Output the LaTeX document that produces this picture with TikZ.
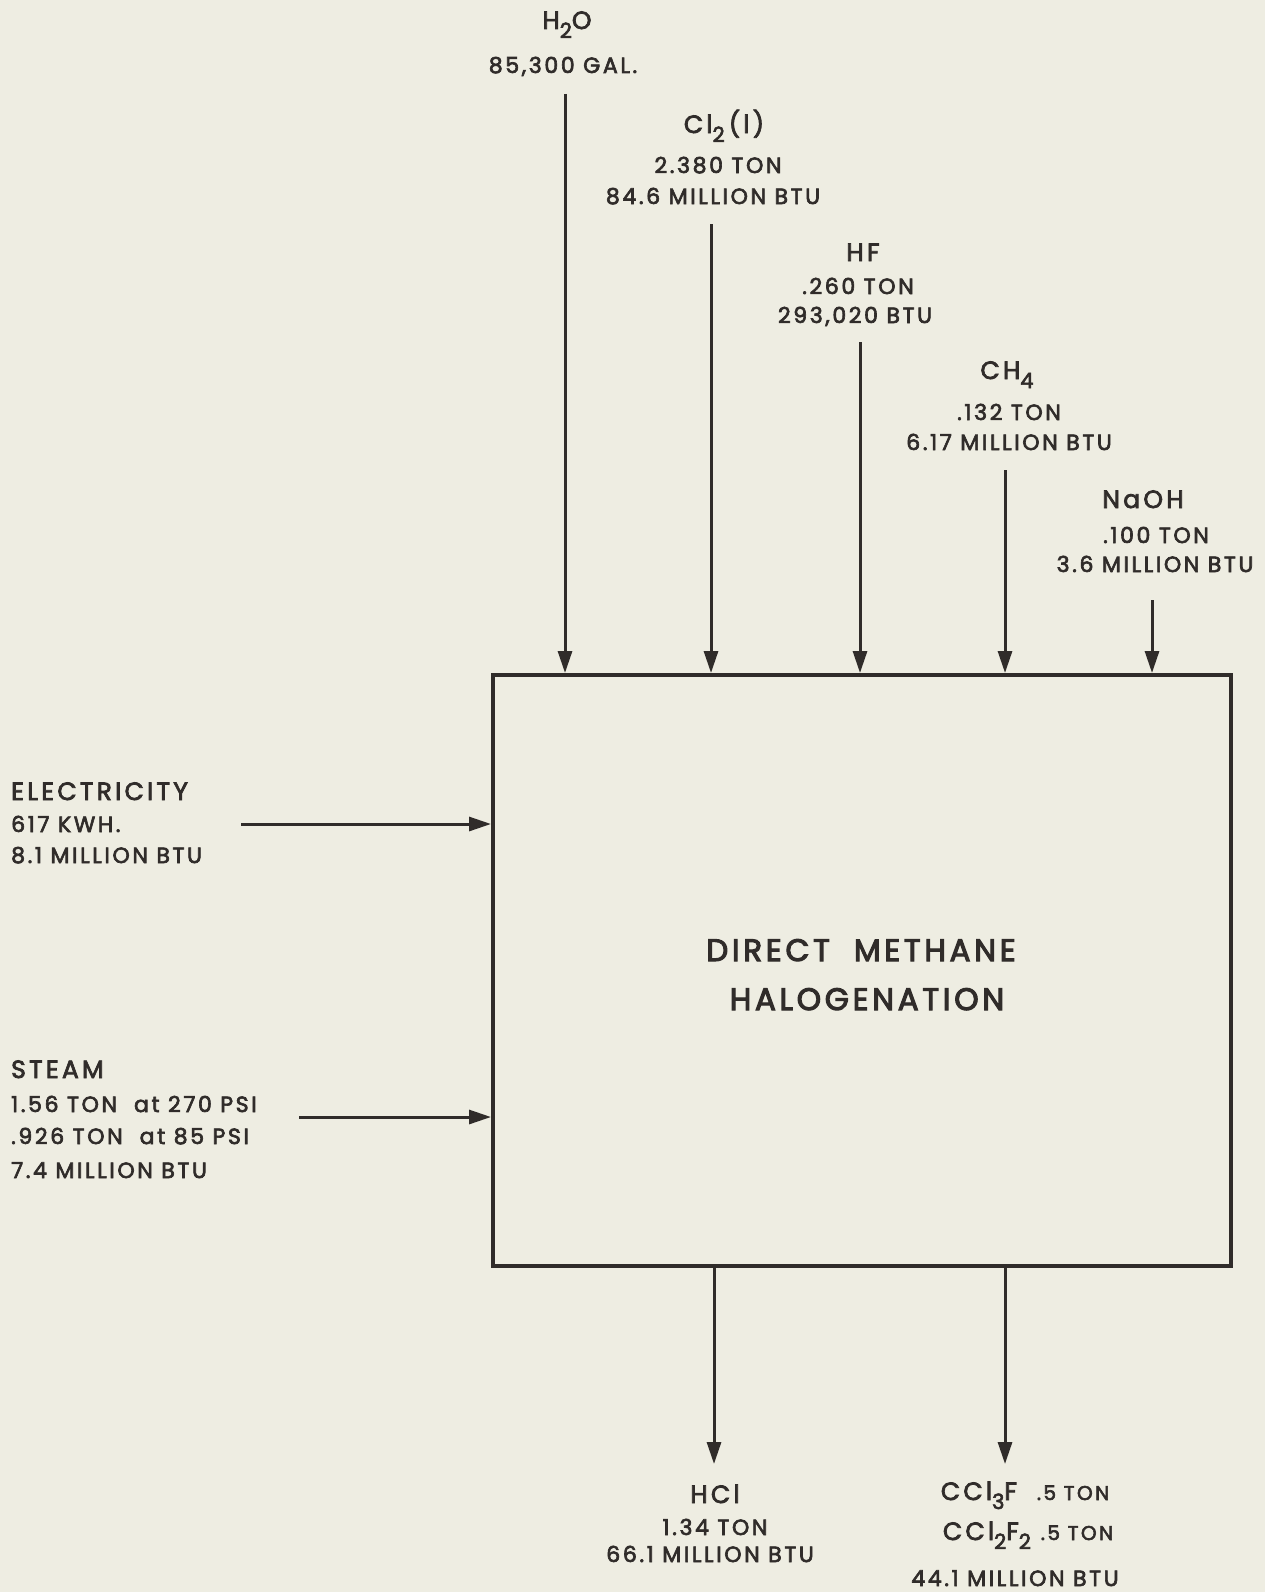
\documentclass[tikz,border=0pt]{standalone}
\usepackage{fontspec}
\setmainfont{Poppins}
\newfontfamily\qfont{Poppins}[FakeBold=3, LetterSpace=12]
\newfontfamily\nfont{Poppins}[FakeBold=3, LetterSpace=13]
\newfontfamily\tfont{Poppins}[FakeBold=3.5, LetterSpace=12]
\usetikzlibrary{arrows.meta}
\definecolor{paper}{RGB}{238,237,226}
\definecolor{ink}{RGB}{48,44,42}
\newcommand\sbs[1]{\raisebox{-0.36em}{\fontsize{21}{21}\selectfont #1}}
\begin{document}
\begin{tikzpicture}[x=1pt,y=-1pt,
  lbl/.style={font=\qfont\fontsize{22}{22}\selectfont, text=ink, inner sep=0pt, anchor=base},
  big/.style={font=\nfont\fontsize{25}{25}\selectfont, text=ink, inner sep=0pt, anchor=base},
  lft/.style={lbl, anchor=base west},
  ttl/.style={font=\tfont\fontsize{31}{31}\selectfont, text=ink, inner sep=0pt, anchor=base},
  flow/.style={draw=ink, line width=3pt, -{Triangle[length=22pt,width=14pt]}},
  procbox/.style={draw=ink, line width=3.5pt, inner sep=0pt, anchor=north west,
     minimum width=738pt, minimum height=591pt}]
\fill[paper] (0,0) rectangle (1265,1592);
\useasboundingbox (0,0) rectangle (1265,1592);
\node[procbox] (box) at (491,673) {};
% top inputs
\node[big] (h2o) at (567,29) {H\sbs{2}O};
\node[lbl] (h2oa) at (563,73) {85,300 GAL.};
\node[big] (cl2) at (724,133) {Cl\sbs{2}\,(l)};
\node[lbl] (cl2a) at (718,173) {2.380 TON};
\node[lbl] (cl2b) at (713,204) {84.6 MILLION BTU};
\node[big] (hf) at (863,261) {HF};
\node[lbl] (hfa) at (858,294) {.260 TON};
\node[lbl] (hfb) at (855,323) {293,020 BTU};
\node[big] (ch4) at (1007,379) {CH\sbs{4}};
\node[lbl] (ch4a) at (1009,420) {.132 TON};
\node[lbl] (ch4b) at (1009,450) {6.17 MILLION BTU};
\node[big] (naoh) at (1143,508) {NaOH};
\node[lbl] (naoha) at (1156,543) {.100 TON};
\node[lbl] (naohb) at (1155,572) {3.6 MILLION BTU};
\coordinate (s1) at (565,94);
\coordinate (s2) at (711,224);
\coordinate (s3) at (860,342);
\coordinate (s4) at (1005,470);
\coordinate (s5) at (1152,600);
\foreach \s in {s1,s2,s3,s4,s5} \draw[flow] (\s) -- (\s |- box.north);
% left inputs
\node[big, anchor=base west] (el) at (11,800) {ELECTRICITY};
\node[lft] (ela) at (11,832) {617 KWH.};
\node[lft] (elb) at (11,863) {8.1 MILLION BTU};
\node[big, anchor=base west] (st) at (11,1078) {STEAM};
\node[lft] (sta) at (11,1112) {1.56 TON\ \ at 270 PSI};
\node[lft] (stb) at (11,1144) {.926 TON\ \ at 85 PSI};
\node[lft] (stc) at (11,1178) {7.4 MILLION BTU};
\coordinate (e1) at (241,824);
\coordinate (e2) at (299,1117);
\draw[flow] (e1) -- (e1 -| box.west);
\draw[flow] (e2) -- (e2 -| box.west);
% centre
\node[ttl] (t1) at (861,961) {DIRECT\ \ METHANE};
\node[ttl] (t2) at (867,1010) {HALOGENATION};
% outputs
\coordinate (o1) at (714,1464);
\coordinate (o2) at (1005,1464);
\draw[flow] (box.south -| o1) -- (o1);
\draw[flow] (box.south -| o2) -- (o2);
\node[big] (hcl) at (715,1503) {HCl};
\node[lbl] (hcla) at (715,1535) {1.34 TON};
\node[lbl] (hclb) at (710,1562) {66.1 MILLION BTU};
\node[big] (cf1) at (1025,1500) {CCl\sbs{3}F\ \ {\qfont\fontsize{20}{20}\selectfont .5 TON}};
\node[big] (cf2) at (1028,1540) {CCl\sbs{2}F\sbs{2} {\qfont\fontsize{20}{20}\selectfont .5 TON}};
\node[lbl] (cf3) at (1015,1586) {44.1 MILLION BTU};
\end{tikzpicture}
\end{document}
